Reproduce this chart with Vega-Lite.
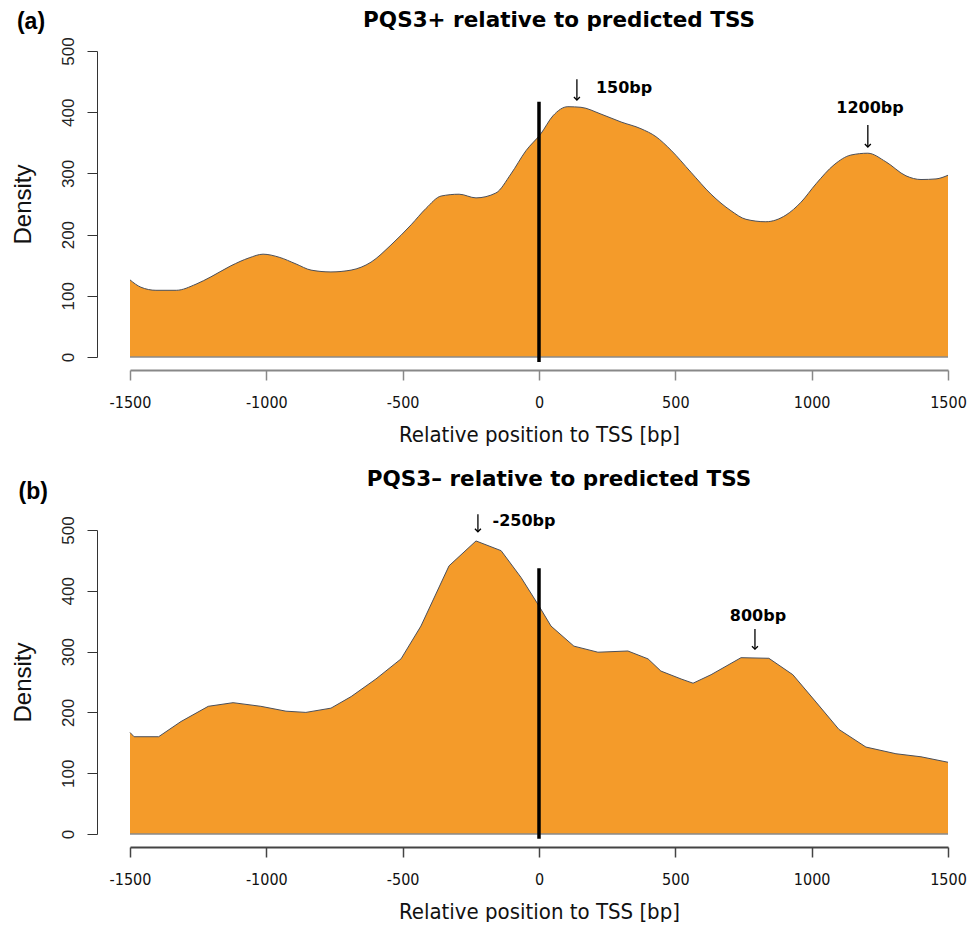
{
  "$schema": "https://vega.github.io/schema/vega-lite/v6.json",
  "background": "white",
  "padding": {"left": 10, "top": 9, "right": 5, "bottom": 0},
  "spacing": 23,
  "config": {
    "view": {"stroke": null},
    "font": "Liberation Sans",
    "axis": {"grid": false, "titleFontWeight": "normal", "titleColor": "#111", "labelColor": "#222"}
  },
  "datasets": {
    "plus": [
      {"pos": -1500, "density": 126}, {"pos": -1460, "density": 114}, {"pos": -1405, "density": 109},
      {"pos": -1330, "density": 109}, {"pos": -1258, "density": 119}, {"pos": -1203, "density": 131},
      {"pos": -1130, "density": 149}, {"pos": -1063, "density": 162}, {"pos": -1012, "density": 168},
      {"pos": -953, "density": 163}, {"pos": -891, "density": 152}, {"pos": -836, "density": 142},
      {"pos": -763, "density": 139}, {"pos": -689, "density": 142}, {"pos": -616, "density": 155},
      {"pos": -543, "density": 183}, {"pos": -469, "density": 216}, {"pos": -414, "density": 243},
      {"pos": -359, "density": 263}, {"pos": -293, "density": 266}, {"pos": -231, "density": 260},
      {"pos": -158, "density": 268}, {"pos": -103, "density": 299}, {"pos": -48, "density": 337},
      {"pos": 7, "density": 365}, {"pos": 51, "density": 394}, {"pos": 106, "density": 409},
      {"pos": 154, "density": 408}, {"pos": 227, "density": 397}, {"pos": 301, "density": 384},
      {"pos": 374, "density": 373}, {"pos": 429, "density": 360}, {"pos": 484, "density": 338},
      {"pos": 557, "density": 302}, {"pos": 631, "density": 266}, {"pos": 704, "density": 239},
      {"pos": 759, "density": 225}, {"pos": 832, "density": 221}, {"pos": 906, "density": 232},
      {"pos": 961, "density": 253}, {"pos": 1016, "density": 283}, {"pos": 1082, "density": 314},
      {"pos": 1144, "density": 330}, {"pos": 1206, "density": 333}, {"pos": 1272, "density": 319},
      {"pos": 1346, "density": 296}, {"pos": 1401, "density": 290}, {"pos": 1456, "density": 291},
      {"pos": 1500, "density": 297}
    ],
    "minus": [
      {"pos": -1500, "density": 167}, {"pos": -1485, "density": 160}, {"pos": -1395, "density": 160},
      {"pos": -1313, "density": 185}, {"pos": -1213, "density": 210}, {"pos": -1122, "density": 216},
      {"pos": -1020, "density": 210}, {"pos": -928, "density": 202}, {"pos": -855, "density": 200},
      {"pos": -763, "density": 207}, {"pos": -689, "density": 226}, {"pos": -598, "density": 255},
      {"pos": -506, "density": 288}, {"pos": -433, "density": 342}, {"pos": -330, "density": 441},
      {"pos": -231, "density": 482}, {"pos": -139, "density": 466}, {"pos": -66, "density": 422},
      {"pos": 0, "density": 375}, {"pos": 44, "density": 342}, {"pos": 128, "density": 309},
      {"pos": 216, "density": 299}, {"pos": 326, "density": 301}, {"pos": 400, "density": 288},
      {"pos": 447, "density": 268}, {"pos": 521, "density": 255}, {"pos": 565, "density": 248},
      {"pos": 631, "density": 262}, {"pos": 741, "density": 290}, {"pos": 843, "density": 289},
      {"pos": 931, "density": 262}, {"pos": 1016, "density": 217}, {"pos": 1100, "density": 172},
      {"pos": 1199, "density": 143}, {"pos": 1309, "density": 132}, {"pos": 1401, "density": 127},
      {"pos": 1500, "density": 118}
    ],
    "baseline": [{"x1": -1500, "x2": 1500, "y": 0}],
    "tssA": [{"pos": 0, "y1": -8, "y2": 417}],
    "tssB": [{"pos": 0, "y1": -8, "y2": 437}],
    "labelsA": [
      {"pos": 312, "y": 440, "label": "150bp"},
      {"pos": 1214, "y": 407, "label": "1200bp"}
    ],
    "arrowsA": [
      {"pos": 139, "top": 454, "tip": 420},
      {"pos": 1206, "top": 379, "tip": 343}
    ],
    "labelsB": [
      {"pos": -55, "y": 515, "label": "-250bp"},
      {"pos": 803, "y": 359, "label": "800bp"}
    ],
    "arrowsB": [
      {"pos": -224, "top": 526, "tip": 497},
      {"pos": 792, "top": 337, "tip": 304}
    ],
    "panelA": [{"pos": -1863, "y": 547, "label": "(a)"}],
    "panelB": [{"pos": -1855, "y": 562, "label": "(b)"}]
  },
  "vconcat": [
    {
      "width": 818,
      "height": 306,
      "title": {"text": "PQS3+ relative to predicted TSS", "font": "DejaVu Sans", "fontSize": 21.5, "fontWeight": "bold", "anchor": "middle", "offset": -20, "dx": 20, "color": "#000"},
      "layer": [
        {
          "data": {"name": "plus"},
          "mark": {"type": "area", "color": "#F49B2A", "interpolate": "monotone"},
          "encoding": {
            "x": {"field": "pos", "type": "quantitative", "scale": {"domain": [-1500, 1500], "nice": false, "zero": false},
              "axis": {"values": [-1500, -1000, -500, 0, 500, 1000, 1500], "labelExpr": "'' + datum.value", "offset": 13, "tickSize": 10, "domainWidth": 2, "domainColor": "#888", "tickColor": "#888", "tickWidth": 1.5, "labelFont": "DejaVu Sans Condensed, Liberation Sans", "labelFontSize": 16, "labelPadding": 14, "labelColor": "#111", "labelFlush": false, "title": "Relative position to TSS [bp]", "titleFont": "DejaVu Sans Condensed, Liberation Sans", "titleFontSize": 22, "titlePadding": 14}},
            "y": {"field": "density", "type": "quantitative", "scale": {"domain": [0, 500], "nice": false},
              "axis": {"values": [0, 100, 200, 300, 400, 500], "offset": 33, "tickSize": 10, "domainColor": "#333", "tickColor": "#333", "labelAngle": -90, "labelAlign": "center", "labelBaseline": "bottom", "labelPadding": 10, "labelFontSize": 17, "labelColor": "#222", "title": "Density", "titleFontSize": 24, "titlePadding": 24}}
          }
        },
        {
          "data": {"name": "plus"},
          "mark": {"type": "line", "color": "#4a4f5a", "strokeWidth": 1, "interpolate": "monotone"},
          "encoding": {"x": {"field": "pos", "type": "quantitative"}, "y": {"field": "density", "type": "quantitative"}}
        },
        {
          "data": {"name": "baseline"},
          "mark": {"type": "rule", "color": "#8a8a8a", "strokeWidth": 1.5},
          "encoding": {"x": {"field": "x1", "type": "quantitative"}, "x2": {"field": "x2"}, "y": {"field": "y", "type": "quantitative"}}
        },
        {
          "data": {"name": "tssA"},
          "mark": {"type": "rule", "color": "#000", "strokeWidth": 3.5},
          "encoding": {"x": {"field": "pos", "type": "quantitative"}, "y": {"field": "y1", "type": "quantitative"}, "y2": {"field": "y2"}}
        },
        {
          "data": {"name": "arrowsA"},
          "mark": {"type": "rule", "color": "#000", "strokeWidth": 1.3},
          "encoding": {"x": {"field": "pos", "type": "quantitative"}, "y": {"field": "top", "type": "quantitative"}, "y2": {"field": "tip"}}
        },
        {
          "data": {"name": "arrowsA"},
          "mark": {"type": "point", "shape": "M-1,-1L0,0L1,-1", "size": 36, "filled": false, "color": "#000", "strokeWidth": 1.3, "opacity": 1},
          "encoding": {"x": {"field": "pos", "type": "quantitative"}, "y": {"field": "tip", "type": "quantitative"}}
        },
        {
          "data": {"name": "labelsA"},
          "mark": {"type": "text", "font": "DejaVu Sans", "fontSize": 16, "fontWeight": "bold", "align": "center", "baseline": "middle", "color": "#000"},
          "encoding": {"x": {"field": "pos", "type": "quantitative"}, "y": {"field": "y", "type": "quantitative"}, "text": {"field": "label"}}
        },
        {
          "data": {"name": "panelA"},
          "mark": {"type": "text", "font": "Liberation Sans", "fontSize": 23, "fontWeight": "bold", "align": "center", "baseline": "middle", "color": "#000"},
          "encoding": {"x": {"field": "pos", "type": "quantitative"}, "y": {"field": "y", "type": "quantitative"}, "text": {"field": "label"}}
        }
      ]
    },
    {
      "width": 818,
      "height": 304,
      "title": {"text": "PQS3– relative to predicted TSS", "font": "DejaVu Sans", "fontSize": 21.5, "fontWeight": "bold", "anchor": "middle", "offset": -9, "dx": 20, "color": "#000"},
      "layer": [
        {
          "data": {"name": "minus"},
          "mark": {"type": "area", "color": "#F49B2A", "interpolate": "linear"},
          "encoding": {
            "x": {"field": "pos", "type": "quantitative", "scale": {"domain": [-1500, 1500], "nice": false, "zero": false},
              "axis": {"values": [-1500, -1000, -500, 0, 500, 1000, 1500], "labelExpr": "'' + datum.value", "offset": 13, "tickSize": 10, "domainWidth": 2, "domainColor": "#444", "tickColor": "#444", "tickWidth": 1.5, "labelFont": "DejaVu Sans Condensed, Liberation Sans", "labelFontSize": 16, "labelPadding": 14, "labelColor": "#111", "labelFlush": false, "title": "Relative position to TSS [bp]", "titleFont": "DejaVu Sans Condensed, Liberation Sans", "titleFontSize": 22, "titlePadding": 14}},
            "y": {"field": "density", "type": "quantitative", "scale": {"domain": [0, 500], "nice": false},
              "axis": {"values": [0, 100, 200, 300, 400, 500], "offset": 33, "tickSize": 10, "domainColor": "#333", "tickColor": "#333", "labelAngle": -90, "labelAlign": "center", "labelBaseline": "bottom", "labelPadding": 10, "labelFontSize": 17, "labelColor": "#222", "title": "Density", "titleFontSize": 24, "titlePadding": 24}}
          }
        },
        {
          "data": {"name": "minus"},
          "mark": {"type": "line", "color": "#4a4f5a", "strokeWidth": 1, "interpolate": "linear"},
          "encoding": {"x": {"field": "pos", "type": "quantitative"}, "y": {"field": "density", "type": "quantitative"}}
        },
        {
          "data": {"name": "baseline"},
          "mark": {"type": "rule", "color": "#8a8a8a", "strokeWidth": 1.5},
          "encoding": {"x": {"field": "x1", "type": "quantitative"}, "x2": {"field": "x2"}, "y": {"field": "y", "type": "quantitative"}}
        },
        {
          "data": {"name": "tssB"},
          "mark": {"type": "rule", "color": "#000", "strokeWidth": 3.5},
          "encoding": {"x": {"field": "pos", "type": "quantitative"}, "y": {"field": "y1", "type": "quantitative"}, "y2": {"field": "y2"}}
        },
        {
          "data": {"name": "arrowsB"},
          "mark": {"type": "rule", "color": "#000", "strokeWidth": 1.3},
          "encoding": {"x": {"field": "pos", "type": "quantitative"}, "y": {"field": "top", "type": "quantitative"}, "y2": {"field": "tip"}}
        },
        {
          "data": {"name": "arrowsB"},
          "mark": {"type": "point", "shape": "M-1,-1L0,0L1,-1", "size": 36, "filled": false, "color": "#000", "strokeWidth": 1.3, "opacity": 1},
          "encoding": {"x": {"field": "pos", "type": "quantitative"}, "y": {"field": "tip", "type": "quantitative"}}
        },
        {
          "data": {"name": "labelsB"},
          "mark": {"type": "text", "font": "DejaVu Sans", "fontSize": 16, "fontWeight": "bold", "align": "center", "baseline": "middle", "color": "#000"},
          "encoding": {"x": {"field": "pos", "type": "quantitative"}, "y": {"field": "y", "type": "quantitative"}, "text": {"field": "label"}}
        },
        {
          "data": {"name": "panelB"},
          "mark": {"type": "text", "font": "Liberation Sans", "fontSize": 23, "fontWeight": "bold", "align": "center", "baseline": "middle", "color": "#000"},
          "encoding": {"x": {"field": "pos", "type": "quantitative"}, "y": {"field": "y", "type": "quantitative"}, "text": {"field": "label"}}
        }
      ]
    }
  ]
}
